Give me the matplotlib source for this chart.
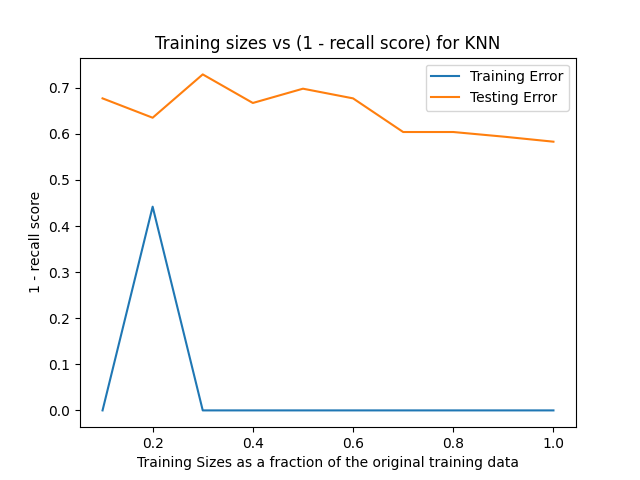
import matplotlib
matplotlib.use('Agg')
import matplotlib.pyplot as plt

sizes = [0.1, 0.2, 0.3, 0.4, 0.5, 0.6, 0.7, 0.8, 0.9, 1.0]
train_err = [0.0, 0.442, 0.0, 0.0, 0.0, 0.0, 0.0, 0.0, 0.0, 0.0]
test_err = [0.677, 0.635, 0.729, 0.667, 0.698, 0.677, 0.604, 0.604, 0.594, 0.583]

fig = plt.figure(figsize=(6.4, 4.8), dpi=100)
plt.plot(sizes, train_err, label='Training Error')
plt.plot(sizes, test_err, label='Testing Error')
plt.title('Training sizes vs (1 - recall score) for KNN')
plt.xlabel('Training Sizes as a fraction of the original training data')
plt.ylabel('1 - recall score')
plt.legend()
plt.savefig('out.png')
